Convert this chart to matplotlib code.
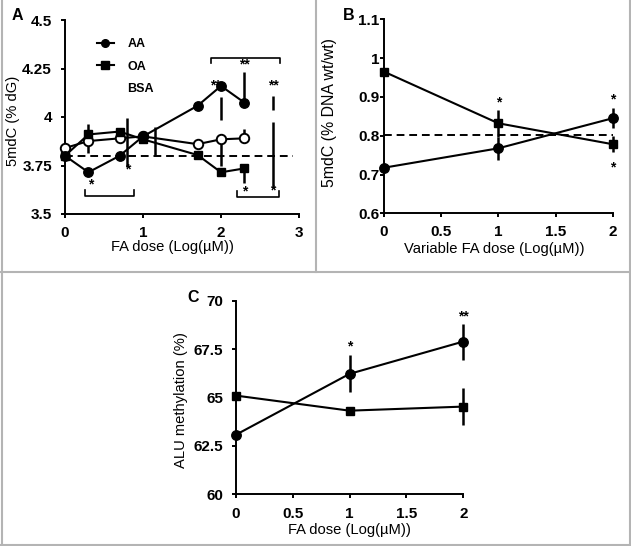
import matplotlib
matplotlib.use("Agg")
import matplotlib.pyplot as plt
from matplotlib.lines import Line2D

plt.rcParams['font.family'] = ['Liberation Sans', 'DejaVu Sans']

# ---------------- Panel A data ----------------
a_x = [0, 0.3, 0.7, 1.0, 1.7, 2.0, 2.3]
a_aa = [3.80, 3.715, 3.80, 3.90, 4.058, 4.16, 4.074]
a_oa = [3.80, 3.91, 3.925, 3.885, 3.804, 3.715, 3.735]
a_bsa = [3.84, 3.876, 3.89, 3.90, 3.86, 3.885, 3.89]
a_ref = 3.80
# vertical error segments as they appear in the panel
a_seg_x = [0.3, 0.8, 1.15, 2.0, 2.0, 2.3, 2.3, 2.3, 2.67, 2.67]
a_seg_lo = [3.813, 3.744, 3.804, 3.985, 3.75, 4.088, 3.89, 3.66, 4.036, 3.632]
a_seg_hi = [3.964, 3.995, 3.95, 4.105, 3.864, 4.234, 3.94, 3.735, 4.108, 3.976]
a_star_x = [0.33, 0.80, 1.93, 2.30, 2.67, 2.31, 2.66]
a_star_y = [3.65, 3.73, 4.165, 4.27, 4.16, 3.615, 3.62]
a_star_t = ['*', '*', '**', '**', '**', '*', '*']
# brackets: x0, x1, y, direction of end ticks
a_br_x0 = [0.256, 2.20, 1.87]
a_br_x1 = [0.89, 2.74, 2.75]
a_br_y = [3.593, 3.586, 4.306]
a_br_d = [0.03, 0.03, -0.03]

# ---------------- Panel B data ----------------
b_x = [0, 1, 2]
b_aa = [0.7175, 0.7675, 0.845]
b_aa_err = [0.0, 0.03, 0.026]
b_oa = [0.965, 0.832, 0.778]
b_oa_err = [0.0, 0.035, 0.02]
b_ref = 0.802
b_star_x = [1, 2, 2]
b_star_y = [0.885, 0.893, 0.718]
b_star_t = ['*', '*', '*']

# ---------------- Panel C data ----------------
c_x = [0, 1, 2]
c_aa = [63.07, 66.22, 67.89]
c_aa_err = [0.0, 0.95, 0.93]
c_oa = [65.1, 64.32, 64.53]
c_oa_err = [0.0, 0.2, 0.95]
c_star_x = [1, 2]
c_star_y = [67.65, 69.2]
c_star_t = ['*', '**']

W, H = 631, 546
fig = plt.figure(figsize=(W / 100, H / 100), dpi=100)
PX = 0.72  # points per pixel at 100 dpi


def ax_px(left, right, top, bottom):
    return fig.add_axes([left / W, 1 - bottom / H, (right - left) / W, (bottom - top) / H])


def style(ax, ypad_px, xpad_px):
    for s in ['top', 'right']:
        ax.spines[s].set_visible(False)
    for s in ['left', 'bottom']:
        ax.spines[s].set_linewidth(1.4)
    ax.tick_params(direction='out', length=4 * PX, width=1.4, labelsize=11)
    ax.tick_params(axis='y', pad=ypad_px * PX)
    ax.tick_params(axis='x', pad=xpad_px * PX)
    for lab in ax.get_xticklabels() + ax.get_yticklabels():
        lab.set_fontweight('bold')


LW = 1.5
MS = 6.8
LBL = 10.6

# ---- A ----
axA = ax_px(65, 299, 20, 214)
axA.set_xlim(0, 3)
axA.set_ylim(3.5, 4.5)
axA.set_xticks([0, 1, 2, 3])
axA.set_yticks([3.5, 3.75, 4, 4.25, 4.5])
axA.set_yticklabels(['3.5', '3.75', '4', '4.25', '4.5'])
axA.axhline(a_ref, xmin=0, xmax=2.92 / 3, color='k', ls=(0, (4, 2.5)), lw=1.4, zorder=1)
axA.vlines(a_seg_x, a_seg_lo, a_seg_hi, color='k', lw=1.8, zorder=2)
axA.plot(a_x, a_bsa, '-o', color='k', mfc='white', mec='k', mew=1.4, ms=MS, lw=LW, zorder=3, clip_on=False)
axA.plot(a_x, a_oa, '-s', color='k', ms=MS - 0.5, lw=LW, zorder=4, clip_on=False)
axA.plot(a_x, a_aa, '-o', color='k', ms=MS, lw=LW, zorder=5, clip_on=False)
for x, y, t in zip(a_star_x, a_star_y, a_star_t):
    axA.text(x, y, t, ha='center', va='center', fontsize=10, fontweight='bold', zorder=2)
for x0, x1, y, d in zip(a_br_x0, a_br_x1, a_br_y, a_br_d):
    axA.plot([x0, x0, x1, x1], [y + d, y, y, y + d], color='k', lw=1.2)
handles = [Line2D([], [], color='k', marker='o', ms=5.5, lw=LW),
           Line2D([], [], color='k', marker='s', ms=5.5, lw=LW),
           Line2D([], [], ls='none')]
axA.legend(handles, ['AA', 'OA', 'BSA'], loc='upper left', bbox_to_anchor=(0.09, 0.965),
           frameon=False, handlelength=1.3, handletextpad=1.1, labelspacing=0.85,
           prop={'weight': 'bold', 'size': 9})
axA.set_xlabel('FA dose (Log(µM))', fontsize=LBL)
axA.set_ylabel('5mdC (% dG)', fontsize=LBL)
axA.xaxis.set_label_coords(0.457, -0.134)
axA.yaxis.set_label_coords(-0.192, 0.479)
style(axA, 9, 8)

# ---- B ----
axB = ax_px(384, 612.7, 19.3, 213.3)
axB.set_xlim(0, 2)
axB.set_ylim(0.6, 1.1)
axB.set_xticks([0, 0.5, 1, 1.5, 2])
axB.set_xticklabels(['0', '0.5', '1', '1.5', '2'])
axB.set_yticks([0.6, 0.7, 0.8, 0.9, 1.0, 1.1])
axB.set_yticklabels(['0.6', '0.7', '0.8', '0.9', '1', '1.1'])
axB.axhline(b_ref, xmin=0, xmax=1, color='k', ls=(0, (4, 2.5)), lw=1.4, zorder=1)
axB.errorbar(b_x, b_oa, yerr=b_oa_err, fmt='-s', color='k', ms=MS - 0.5, lw=LW, elinewidth=1.8,
             capsize=0, zorder=4, clip_on=False)
axB.errorbar(b_x, b_aa, yerr=b_aa_err, fmt='-o', color='k', ms=MS, lw=LW, elinewidth=1.8,
             capsize=0, zorder=5, clip_on=False)
for x, y, t in zip(b_star_x, b_star_y, b_star_t):
    axB.text(x, y, t, ha='center', va='center', fontsize=10, fontweight='bold')
axB.set_xlabel('Variable FA dose (Log(µM))', fontsize=LBL)
axB.set_ylabel('5mdC (% DNA wt/wt)', fontsize=11.4)
axB.xaxis.set_label_coords(0.483, -0.146)
axB.yaxis.set_label_coords(-0.2055, 0.52)
style(axB, 0.5, 8)

# ---- C ----
axC = ax_px(235.7, 463.3, 300.7, 494.3)
axC.set_xlim(0, 2)
axC.set_ylim(60, 70)
axC.set_xticks([0, 0.5, 1, 1.5, 2])
axC.set_xticklabels(['0', '0.5', '1', '1.5', '2'])
axC.set_yticks([60, 62.5, 65, 67.5, 70])
axC.set_yticklabels(['60', '62.5', '65', '67.5', '70'])
axC.errorbar(c_x, c_oa, yerr=c_oa_err, fmt='-s', color='k', ms=MS - 0.5, lw=LW, elinewidth=1.8,
             capsize=0, zorder=4, clip_on=False)
axC.errorbar(c_x, c_aa, yerr=c_aa_err, fmt='-o', color='k', ms=MS, lw=LW, elinewidth=1.8,
             capsize=0, zorder=5, clip_on=False)
for x, y, t in zip(c_star_x, c_star_y, c_star_t):
    axC.text(x, y, t, ha='center', va='center', fontsize=10, fontweight='bold')
axC.set_xlabel('FA dose (Log(µM))', fontsize=LBL)
axC.set_ylabel('ALU methylation (%)', fontsize=LBL)
axC.xaxis.set_label_coords(0.5, -0.148)
axC.yaxis.set_label_coords(-0.21, 0.4845)
style(axC, 8.7, 9)

# panel letters
fig.text(12 / W, 1 - 15 / H, 'A', fontsize=11.5, fontweight='bold', va='center', ha='left')
fig.text(343 / W, 1 - 15 / H, 'B', fontsize=11.5, fontweight='bold', va='center', ha='left')
fig.text(187 / W, 1 - 297 / H, 'C', fontsize=11.5, fontweight='bold', va='center', ha='left')

# panel frames
gray = '#b4b4b4'
fig.add_artist(Line2D([1.5 / W, 1.5 / W], [0, 1], color=gray, lw=1.5))
fig.add_artist(Line2D([629.5 / W, 629.5 / W], [0, 1], color=gray, lw=1.5))
fig.add_artist(Line2D([0, 1], [1 - 272 / H, 1 - 272 / H], color=gray, lw=1.5))
fig.add_artist(Line2D([0, 1], [1 - 544.5 / H, 1 - 544.5 / H], color=gray, lw=1.5))
fig.add_artist(Line2D([315.7 / W, 315.7 / W], [1 - 272 / H, 1], color=gray, lw=1.5))

fig.savefig('out.png', dpi=100)
